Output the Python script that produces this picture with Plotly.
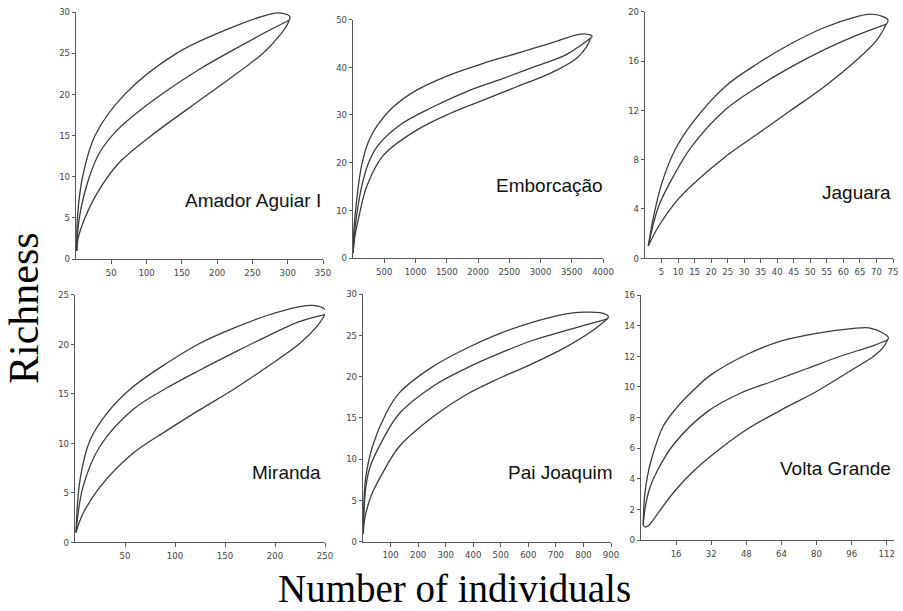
import plotly.graph_objects as go

W, H = 903, 611

# ---------------- data ----------------
site_names = ["Amador Aguiar I", "Emborcação", "Jaguara", "Miranda", "Pai Joaquim", "Volta Grande"]

# Amador Aguiar I
amador_up_x = [1, 2, 9.4, 27, 69, 143, 223, 265, 285, 299, 303.3, 302]
amador_up_y = [1, 5, 10, 15, 20, 25, 28.2, 29.5, 29.9, 29.7, 29.4, 29]
amador_mid_x = [1, 4.7, 19, 34, 60, 90, 128, 176, 223, 270, 302]
amador_mid_y = [1, 5, 10, 13, 15.8, 18, 20.4, 23.1, 25.4, 27.6, 29]
amador_low_x = [1, 3, 12.8, 30, 60, 107, 187, 265, 291, 299, 302]
amador_low_y = [1, 2.5, 5, 8, 11.6, 15, 20, 25, 27.4, 28.4, 29]

# Emborcação
emb_up_x = [1, 15, 59, 139, 250, 400, 645, 1019, 1552, 2085, 2619, 3152, 3579, 3700, 3825, 3803]
emb_up_y = [1, 6, 12.2, 19.5, 24.5, 28, 31.7, 35.2, 38.4, 40.8, 42.9, 45, 46.8, 47, 46.5, 46.1]
emb_mid_x = [1, 15, 59, 139, 250, 400, 752, 1285, 1819, 2352, 2885, 3419, 3803]
emb_mid_y = [1, 4, 9, 15, 20, 23.6, 27.9, 31.7, 34.9, 37.4, 40.0, 42.7, 46.1]
emb_low_x = [1, 30, 100, 219, 485, 1019, 1552, 2085, 2619, 3152, 3579, 3739, 3803]
emb_low_y = [1, 4.5, 9, 15, 21.5, 26.8, 30.3, 33.1, 35.9, 38.7, 41.9, 44.3, 46.1]

# Jaguara
jag_up_x = [1, 2.6, 5.1, 9.1, 14.1, 24.1, 34.1, 44.1, 54.1, 64.1, 68.1, 72, 73.5, 73]
jag_up_y = [1, 3.4, 6.1, 8.8, 10.9, 13.9, 15.8, 17.4, 18.7, 19.6, 19.8, 19.6, 19.3, 19]
jag_mid_x = [1, 4.1, 9.1, 14.1, 24.1, 34.1, 44.1, 54.1, 64.1, 73]
jag_mid_y = [1, 4.2, 6.9, 9.05, 12, 13.9, 15.5, 16.9, 18.1, 19]
jag_low_x = [1, 4.1, 9.1, 14.1, 24.1, 34.1, 44.1, 54.1, 64.1, 70.1, 73]
jag_low_y = [1, 2.6, 4.5, 5.9, 8.2, 10.1, 12, 13.9, 16.1, 17.7, 19]

# Miranda
mir_up_x = [1, 5, 15, 31.7, 58, 92, 125, 158, 192, 225, 240, 249, 251, 250]
mir_up_y = [1, 6.3, 10.3, 13, 15.7, 18.1, 20.1, 21.6, 22.9, 23.8, 23.9, 23.6, 23.3, 23]
mir_mid_x = [1, 8, 25, 58, 92, 125, 158, 192, 225, 250]
mir_mid_y = [1, 5.6, 9.7, 13.4, 15.6, 17.4, 19.1, 20.8, 22.3, 23]
mir_low_x = [1, 8, 25, 58, 92, 125, 158, 192, 225, 242, 250]
mir_low_y = [1, 2.9, 5.6, 9, 11.3, 13.4, 15.4, 17.7, 20.1, 21.8, 23]

# Pai Joaquim
pai_up_x = [1, 3, 10, 34, 83, 131, 253, 374, 495, 617, 738, 800, 865, 890, 887]
pai_up_y = [1, 4.5, 7.8, 11.5, 15.5, 18, 21.2, 23.4, 25.2, 26.6, 27.6, 27.8, 27.7, 27.3, 27]
pai_mid_x = [1, 4, 10, 25, 71, 131, 253, 374, 495, 617, 738, 887]
pai_mid_y = [1, 4, 6.5, 9, 12.3, 15.5, 18.8, 21, 22.8, 24.4, 25.6, 27]
pai_low_x = [1, 3, 10, 30, 71, 131, 253, 374, 495, 617, 738, 835, 887]
pai_low_y = [1, 2, 3.4, 5.6, 8.3, 11.5, 15.1, 17.8, 19.8, 21.6, 23.6, 25.6, 27]

# Volta Grande
vg_up_x = [1, 1.6, 3, 5, 10, 16, 24, 32, 48, 64, 80, 96, 104, 110.5, 112.8, 112.3]
vg_up_y = [1, 2.8, 4.2, 5.4, 7.4, 8.6, 9.8, 10.8, 12.1, 13, 13.5, 13.8, 13.85, 13.5, 13.2, 13.06]
vg_mid_x = [1, 2, 4, 7.7, 15.2, 30.4, 45.5, 60.6, 75.7, 90.8, 106, 112.3]
vg_mid_y = [1, 2.2, 3.4, 4.6, 6.3, 8.4, 9.6, 10.4, 11.2, 12, 12.7, 13.06]
vg_low_x = [1, 1.8, 3.5, 6, 10, 16, 24, 32, 48, 64, 80, 96, 106, 110.5, 112.3]
vg_low_y = [1, 0.85, 0.95, 1.4, 2.2, 3.3, 4.5, 5.5, 7.2, 8.5, 9.7, 11.1, 12, 12.6, 13.06]

# tick values
amador_xticks = [50, 100, 150, 200, 250, 300, 350]
amador_yticks = [0, 5, 10, 15, 20, 25, 30]
emb_xticks = [500, 1000, 1500, 2000, 2500, 3000, 3500, 4000]
emb_yticks = [0, 10, 20, 30, 40, 50]
jag_xticks = [5, 10, 15, 20, 25, 30, 35, 40, 45, 50, 55, 60, 65, 70, 75]
jag_yticks = [0, 4, 8, 12, 16, 20]
mir_xticks = [50, 100, 150, 200, 250]
mir_yticks = [0, 5, 10, 15, 20, 25]
pai_xticks = [100, 200, 300, 400, 500, 600, 700, 800, 900]
pai_yticks = [0, 5, 10, 15, 20, 25, 30]
vg_xticks = [16, 32, 48, 64, 80, 96, 112]
vg_yticks = [0, 2, 4, 6, 8, 10, 12, 14, 16]

# ---------------- layout helpers ----------------
panels = [
    dict(curves=[(amador_up_x, amador_up_y), (amador_mid_x, amador_mid_y), (amador_low_x, amador_low_y)],
         xt=amador_xticks, yt=amador_yticks, xr=[0, 350], yr=[0, 30], box=(76, 323, 12, 259), lab=(323, 200)),
    dict(curves=[(emb_up_x, emb_up_y), (emb_mid_x, emb_mid_y), (emb_low_x, emb_low_y)],
         xt=emb_xticks, yt=emb_yticks, xr=[0, 4000], yr=[0, 50], box=(353, 603, 19.5, 258), lab=(605, 185)),
    dict(curves=[(jag_up_x, jag_up_y), (jag_mid_x, jag_mid_y), (jag_low_x, jag_low_y)],
         xt=jag_xticks, yt=jag_yticks, xr=[0, 75], yr=[0, 20], box=(645, 893, 11.7, 258.3), lab=(893, 193)),
    dict(curves=[(mir_up_x, mir_up_y), (mir_mid_x, mir_mid_y), (mir_low_x, mir_low_y)],
         xt=mir_xticks, yt=mir_yticks, xr=[0, 250], yr=[0, 25], box=(75, 325, 294.7, 542.3), lab=(323, 473)),
    dict(curves=[(pai_up_x, pai_up_y), (pai_mid_x, pai_mid_y), (pai_low_x, pai_low_y)],
         xt=pai_xticks, yt=pai_yticks, xr=[0, 900], yr=[0, 30], box=(363, 611, 294, 541.7), lab=(615, 473)),
    dict(curves=[(vg_up_x, vg_up_y), (vg_mid_x, vg_mid_y), (vg_low_x, vg_low_y)],
         xt=vg_xticks, yt=vg_yticks, xr=[0, 115.3], yr=[0, 16], box=(641, 894, 295, 540), lab=(893, 468)),
]

fig = go.Figure()
tick_font = dict(family="Liberation Sans Narrow, Arial Narrow, DejaVu Sans Condensed, sans-serif",
                 size=9.5, color="#444444")
line_col = "#3c3c3c"
axis_col = "#5a5a5a"

layout_axes = {}
annotations = []
for i, p in enumerate(panels):
    n = i + 1
    xa = "x" if n == 1 else f"x{n}"
    ya = "y" if n == 1 else f"y{n}"
    for cx, cy in p["curves"]:
        fig.add_trace(go.Scatter(x=cx, y=cy, xaxis=xa, yaxis=ya, mode="lines",
                                 line=dict(color=line_col, width=1.3, shape="spline", smoothing=1.0),
                                 showlegend=False, hoverinfo="skip"))
    x0, x1, yt, yb = p["box"]
    common = dict(showgrid=False, zeroline=False, showline=True, linecolor=axis_col, linewidth=1.2,
                  ticks="outside", ticklen=3, tickwidth=1, tickcolor=axis_col,
                  tickfont=tick_font, automargin=False, fixedrange=True)
    layout_axes["xaxis" if n == 1 else f"xaxis{n}"] = dict(
        common, domain=[x0 / W, x1 / W], range=p["xr"], tickmode="array", tickvals=p["xt"],
        ticktext=[str(v) for v in p["xt"]], anchor=ya, ticklen=4)
    layout_axes["yaxis" if n == 1 else f"yaxis{n}"] = dict(
        common, domain=[1 - yb / H, 1 - yt / H], range=p["yr"], tickmode="array", tickvals=p["yt"],
        ticktext=[str(v) for v in p["yt"]], anchor=xa)
    lx, ly = p["lab"]
    annotations.append(dict(text=site_names[i], xref="paper", yref="paper", x=lx / W, y=1 - ly / H,
                            xanchor="right", yanchor="middle", showarrow=False,
                            font=dict(family="Liberation Sans, Arial, sans-serif", size=19, color="#111111")))

annotations.append(dict(text="Richness", xref="paper", yref="paper", x=24 / W, y=1 - 308 / H,
                        xanchor="center", yanchor="middle", showarrow=False, textangle=-90,
                        font=dict(family="Liberation Serif, Times New Roman, serif", size=42, color="#000000")))
annotations.append(dict(text="Number of individuals", xref="paper", yref="paper", x=454 / W, y=1 - 588 / H,
                        xanchor="center", yanchor="middle", showarrow=False,
                        font=dict(family="Liberation Serif, Times New Roman, serif", size=39, color="#000000")))

fig.update_layout(width=W, height=H, margin=dict(l=0, r=0, t=0, b=0),
                  paper_bgcolor="white", plot_bgcolor="white",
                  annotations=annotations, **layout_axes)

fig.write_html("out.html", config={"displayModeBar": False},
               post_script="document.body.style.margin='0';document.body.style.padding='0';"
                           "document.body.style.overflow='hidden';")
